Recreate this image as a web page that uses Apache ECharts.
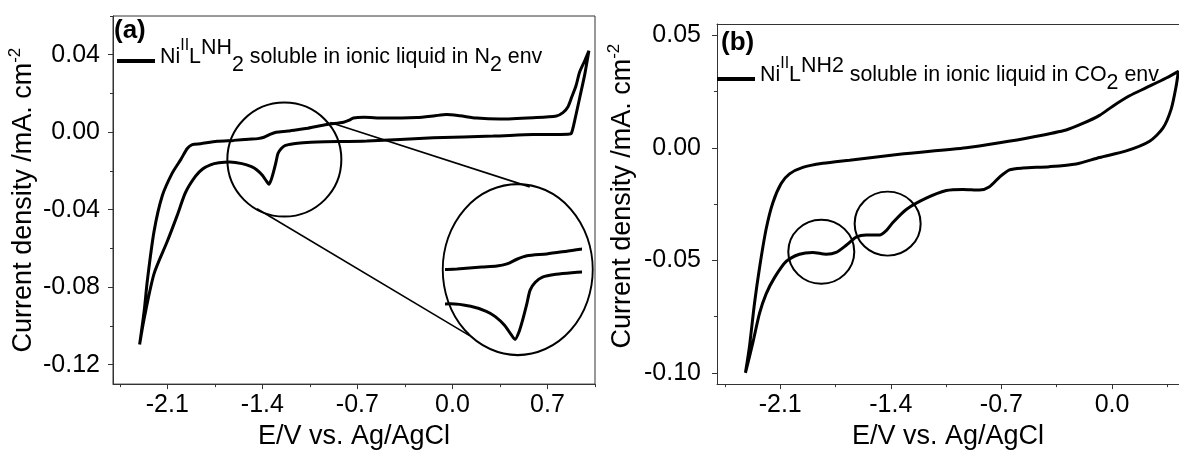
<!DOCTYPE html>
<html>
<head>
<meta charset="utf-8">
<script src="https://cdn.jsdelivr.net/npm/echarts@6/dist/echarts.min.js"></script>
<style>
html,body{margin:0;padding:0;background:#fff;}
#chart{width:1179px;height:455px;}
</style>
</head>
<body>
<div id="chart"></div>
<script>
// ---------------- DATA ----------------
// Panel (a): Ni(II)LNH2 in ionic liquid, N2 atmosphere. E (V vs Ag/AgCl), j (mA cm^-2)
const potA_fwd = [-2.304,-2.270,-2.247,-2.198,-2.137,-2.063,-2.000,-1.953,-1.916,-1.855,-1.733,-1.611,-1.500,-1.433,-1.388,-1.344,-1.299,-1.211,-1.121,-1.063,-0.924,-0.802,-0.760,-0.729,-0.650,-0.508,-0.263,-0.141,-0.043,0.055,0.178,0.349,0.594,0.766,0.814,0.850,0.876,0.910,0.937,0.975,1.005];
const curA_fwd = [-0.1096,-0.0920,-0.0765,-0.0513,-0.0328,-0.0210,-0.0140,-0.0084,-0.0064,-0.0059,-0.0047,-0.0042,-0.0036,-0.0033,-0.0026,-0.0011,0.0000,0.0006,0.0015,0.0021,0.0040,0.0052,0.0062,0.0074,0.0077,0.0073,0.0076,0.0084,0.0092,0.0085,0.0073,0.0068,0.0075,0.0084,0.0101,0.0130,0.0177,0.0240,0.0311,0.0370,0.0420];
const potA_rev = [0.975,0.937,0.900,0.876,0.850,0.594,0.300,-0.141,-0.630,-0.998,-1.100,-1.170,-1.230,-1.262,-1.285,-1.300,-1.318,-1.335,-1.352,-1.370,-1.400,-1.440,-1.480,-1.550,-1.640,-1.720,-1.782,-1.840,-1.892,-1.966,-2.027,-2.100,-2.198,-2.272,-2.304];
const curA_rev = [0.0300,0.0177,0.0059,-0.0005,-0.0010,-0.0012,-0.0020,-0.0029,-0.0045,-0.0050,-0.0054,-0.0059,-0.0068,-0.0085,-0.0110,-0.0155,-0.0205,-0.0245,-0.0268,-0.0252,-0.0222,-0.0195,-0.0178,-0.0162,-0.0154,-0.0158,-0.0168,-0.0190,-0.0227,-0.0311,-0.0429,-0.0563,-0.0731,-0.0967,-0.1096];

// Panel (b): same complex, CO2 atmosphere
const potB_fwd = [-2.320,-2.294,-2.263,-2.231,-2.189,-2.147,-2.094,-2.041,-1.957,-1.830,-1.661,-1.345,-0.923,-0.712,-0.501,-0.290,-0.185,-0.079,0.005,0.111,0.217,0.343,0.420];
const curB_fwd = [-0.1000,-0.0880,-0.0693,-0.0534,-0.0361,-0.0245,-0.0159,-0.0116,-0.0087,-0.0069,-0.0055,-0.0029,0.0000,0.0022,0.0048,0.0079,0.0108,0.0144,0.0185,0.0231,0.0267,0.0310,0.0340];
const potB_rev = [0.406,0.375,0.322,0.238,0.090,-0.079,-0.227,-0.396,-0.565,-0.649,-0.712,-0.775,-0.839,-0.944,-1.049,-1.176,-1.302,-1.387,-1.429,-1.471,-1.556,-1.619,-1.682,-1.746,-1.809,-1.894,-1.978,-2.062,-2.136,-2.189,-2.231,-2.273,-2.320];
const curB_rev = [0.0274,0.0173,0.0087,0.0029,-0.0014,-0.0043,-0.0072,-0.0084,-0.0090,-0.0098,-0.0130,-0.0173,-0.0188,-0.0185,-0.0190,-0.0224,-0.0274,-0.0332,-0.0368,-0.0387,-0.0387,-0.0397,-0.0433,-0.0465,-0.0473,-0.0465,-0.0473,-0.0505,-0.0577,-0.0649,-0.0736,-0.0866,-0.1000];

// Annotation markers (data coordinates)
const zoomSpotA = [[-1.238, -0.0141]];      // small circle around the reduction peak
const zoomLensA = [[0.481, -0.0709]];       // magnified view centre
const zoomLinkUpperA = [[-0.900, 0.0050], [0.569, -0.0282]];
const zoomLinkLowerA = [[-1.439, -0.0395], [0.129, -0.1051]];
const insetRangeE = [-1.655, -1.063];
const insetRangeJ = [-0.0302, 0.0179];
const peakSpotsB = [[-1.840, -0.0462], [-1.420, -0.0337]];

// Axis ticks
const xMajorA = [-2.1, -1.4, -0.7, 0.0, 0.7];
const xMinorA = [-2.45, -1.75, -1.05, -0.35, 0.35, 1.05];
const yMajorA = [-0.12, -0.08, -0.04, 0.00, 0.04];
const yMinorA = [-0.10, -0.06, -0.02, 0.02, 0.06];
const xMajorB = [-2.1, -1.4, -0.7, 0.0];
const xMinorB = [-2.45, -1.75, -1.05, -0.35, 0.35];
const yMajorB = [-0.10, -0.05, 0.00, 0.05];
const yMinorB = [-0.075, -0.025, 0.025];

const xTitle = 'E/V vs. Ag/AgCl';
const yTitle = 'Current density /mA. cm';
const nameA = 'NiIILNH2 soluble in ionic liquid in N2 env';
const nameB = 'NiIILNH2 soluble in ionic liquid in CO2 env';

// ---------------- CHART ----------------
const FONT = "'Liberation Sans', Arial, Helvetica, sans-serif";
const BLACK = '#000';
const AXIS = '#333';
const pairs = (xs, ys) => xs.map((x, i) => [x, ys[i]]);
const loopA = pairs(potA_fwd.concat(potA_rev), curA_fwd.concat(curA_rev));
const loopB = pairs(potB_fwd.concat(potB_rev), curB_fwd.concat(curB_rev));

const chart = echarts.init(document.getElementById('chart'), null, {renderer: 'canvas'});

function majorX(gridIndex, min, max, ticks) {
  return {
    type: 'value', gridIndex, min, max, position: 'bottom',
    axisLine: {show: true, onZero: false, lineStyle: {color: AXIS, width: 1}},
    axisTick: {show: true, customValues: ticks, length: 5, lineStyle: {color: AXIS}},
    axisLabel: {show: true, customValues: ticks, formatter: v => v.toFixed(1),
      fontFamily: FONT, fontSize: 25, color: BLACK, margin: 9},
    splitLine: {show: false},
    name: xTitle, nameLocation: 'middle', nameGap: 27,
    nameTextStyle: {fontFamily: FONT, fontSize: 27, color: BLACK}
  };
}
function minorX(gridIndex, min, max, ticks) {
  return {
    type: 'value', gridIndex, min, max, position: 'bottom',
    axisLine: {show: false, onZero: false},
    axisTick: {show: true, customValues: ticks, length: 3, lineStyle: {color: AXIS}},
    axisLabel: {show: false}, splitLine: {show: false}
  };
}
function borderX(gridIndex, min, max) {
  return {
    type: 'value', gridIndex, min, max, position: 'top',
    axisLine: {show: true, onZero: false, lineStyle: {color: AXIS, width: 1}},
    axisTick: {show: false}, axisLabel: {show: false}, splitLine: {show: false}
  };
}
function majorY(gridIndex, min, max, ticks, gap, margin, pad) {
  return {
    type: 'value', gridIndex, min, max, position: 'left',
    axisLine: {show: true, onZero: false, lineStyle: {color: AXIS, width: 1}},
    axisTick: {show: true, customValues: ticks, length: 5, lineStyle: {color: AXIS}},
    axisLabel: {show: true, customValues: ticks, formatter: v => v.toFixed(2),
      fontFamily: FONT, fontSize: 25, color: BLACK, margin: margin},
    splitLine: {show: false},
    name: '{t|' + yTitle + '}{s|-2}', nameLocation: 'middle', nameGap: gap,
    nameTextStyle: {
      padding: pad,
      rich: {
        t: {fontFamily: FONT, fontSize: 27, color: BLACK, lineHeight: 34},
        s: {fontFamily: FONT, fontSize: 17, color: BLACK, lineHeight: 20, verticalAlign: 'top'}
      }
    }
  };
}
function minorY(gridIndex, min, max, ticks) {
  return {
    type: 'value', gridIndex, min, max, position: 'left',
    axisLine: {show: false, onZero: false},
    axisTick: {show: true, customValues: ticks, length: 3, lineStyle: {color: AXIS}},
    axisLabel: {show: false}, splitLine: {show: false}
  };
}

function legendRich(up, dn) {
  return {
    n:  {fontFamily: FONT, fontSize: 21.4, color: BLACK, lineHeight: 38},
    sp: {fontFamily: FONT, fontSize: 16, color: BLACK, lineHeight: 22, verticalAlign: 'top'},
    up: {fontFamily: FONT, fontSize: 21.4, color: BLACK, lineHeight: 38 - 2 * up, verticalAlign: 'top'},
    dn: {fontFamily: FONT, fontSize: 21.4, color: BLACK, lineHeight: 38 - 2 * dn, verticalAlign: 'bottom'}
  };
}

const xMaxB = 0.424;
const ringStyle = {color: 'rgba(0,0,0,0)', borderColor: BLACK, borderWidth: 2, opacity: 1};

const option = {
  animation: false,
  backgroundColor: '#fff',
  title: [
    {text: '(a)', left: 114, top: 18, padding: 0,
      textStyle: {fontFamily: FONT, fontSize: 26, fontWeight: 'bold', color: BLACK}},
    {text: '(b)', left: 721, top: 30, padding: 0,
      textStyle: {fontFamily: FONT, fontSize: 26, fontWeight: 'bold', color: BLACK}}
  ],
  legend: [
    {data: [nameA], left: 117, top: 38, padding: 0, icon: 'rect', itemWidth: 38, itemHeight: 4,
      selectedMode: false,
      formatter: () => '{n|Ni}{sp|II}{n|L}{up|NH}{dn|2}{n| soluble in ionic liquid in N}{dn|2}{n| env}',
      textStyle: {padding: [0, 0, 8, 0], rich: legendRich(8, 8)}},
    {data: [nameB], left: 717, top: 56, padding: 0, icon: 'rect', itemWidth: 38, itemHeight: 4,
      selectedMode: false,
      formatter: () => '{n|Ni}{sp|II}{n|L}{up|NH2}{n| soluble in ionic liquid in CO}{dn|2}{n| env}',
      textStyle: {padding: [0, 0, 8, 0], rich: legendRich(10, 11)}}
  ],
  grid: [
    {left: 113, top: 16, width: 482, height: 377, show: true, borderColor: AXIS, borderWidth: 1, backgroundColor: 'transparent'},
    {left: 717, top: 24, width: 462, height: 369, show: false},
    {left: 447, top: 200, width: 133, height: 150, show: false}
  ],
  xAxis: [
    majorX(0, -2.5, 1.05, xMajorA),
    minorX(0, -2.5, 1.05, xMinorA),
    majorX(1, -2.5, xMaxB, xMajorB),
    minorX(1, -2.5, xMaxB, xMinorB),
    {type: 'value', gridIndex: 2, min: insetRangeE[0], max: insetRangeE[1], show: false},
    borderX(1, -2.5, xMaxB)
  ],
  yAxis: [
    majorY(0, -0.13, 0.06, yMajorA, 72, 13, [0, 0, 0, 0]),
    minorY(0, -0.13, 0.06, yMinorA),
    majorY(1, -0.105, 0.055, yMajorB, 77, 16, [0, 0, 0, 16]),
    minorY(1, -0.105, 0.055, yMinorB),
    {type: 'value', gridIndex: 2, min: insetRangeJ[0], max: insetRangeJ[1], show: false}
  ],
  series: [
    {name: nameA, type: 'line', xAxisIndex: 0, yAxisIndex: 0, data: loopA,
      showSymbol: false, smooth: 0.25, lineStyle: {color: BLACK, width: 3}, itemStyle: {color: BLACK}, silent: true},
    {name: nameB, type: 'line', xAxisIndex: 2, yAxisIndex: 2, data: loopB, clip: false,
      showSymbol: false, smooth: 0.25, lineStyle: {color: BLACK, width: 3}, itemStyle: {color: BLACK}, silent: true},
    {name: 'inset', type: 'line', xAxisIndex: 4, yAxisIndex: 4, data: loopA, clip: true,
      showSymbol: false, smooth: 0.25, lineStyle: {color: BLACK, width: 3}, silent: true},
    {name: 'spotA', type: 'scatter', xAxisIndex: 0, yAxisIndex: 0, data: zoomSpotA,
      symbol: 'circle', symbolSize: [114, 114], silent: true, itemStyle: ringStyle},
    {name: 'lensA', type: 'scatter', xAxisIndex: 0, yAxisIndex: 0, data: zoomLensA,
      symbol: 'circle', symbolSize: [150, 171], silent: true, itemStyle: ringStyle},
    {name: 'linkUpper', type: 'line', xAxisIndex: 0, yAxisIndex: 0, data: zoomLinkUpperA,
      showSymbol: false, lineStyle: {color: BLACK, width: 1.6}, silent: true},
    {name: 'linkLower', type: 'line', xAxisIndex: 0, yAxisIndex: 0, data: zoomLinkLowerA,
      showSymbol: false, lineStyle: {color: BLACK, width: 1.6}, silent: true},
    {name: 'spotsB', type: 'scatter', xAxisIndex: 2, yAxisIndex: 2, data: peakSpotsB,
      symbol: 'circle', symbolSize: [66, 64], silent: true, itemStyle: ringStyle}
  ]
};
chart.setOption(option);
</script>
</body>
</html>
